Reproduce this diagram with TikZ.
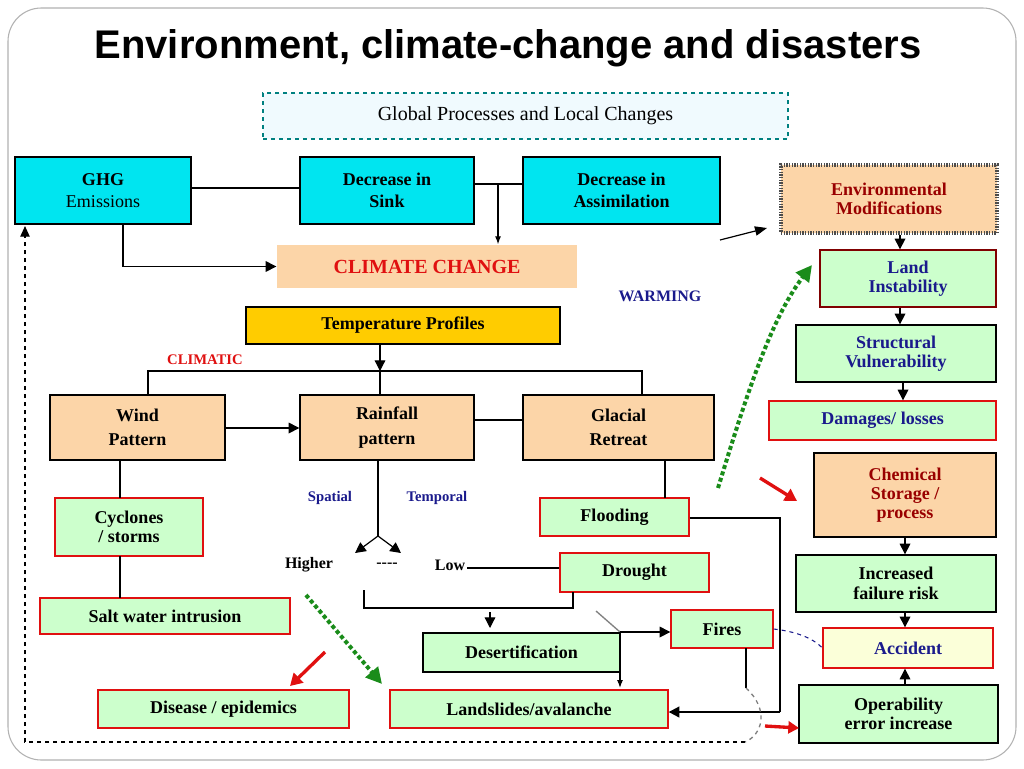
\documentclass[tikz,border=0pt]{standalone}
\usepackage{fontspec}
\setmainfont{Liberation Serif}
\newfontfamily\titlefont{Liberation Sans}
\usetikzlibrary{arrows.meta}
\definecolor{cyanb}{HTML}{00E5F0}
\definecolor{peach}{HTML}{FCD5A8}
\definecolor{lgreen}{HTML}{CCFFCC}
\definecolor{gold}{HTML}{FFCC00}
\definecolor{navyt}{HTML}{1A1A8C}
\definecolor{redt}{HTML}{E01010}
\definecolor{dgreen}{HTML}{1A8C1A}
\begin{document}
\begin{tikzpicture}[x=0.75pt,y=-0.75pt,
 bx/.style={draw=black,line width=1pt,inner sep=0pt,align=center,font=\bfseries\fontsize{13.5}{14.5}\selectfont},
 cy/.style={bx,fill=cyanb},
 pe/.style={bx,fill=peach},
 gr/.style={bx,fill=lgreen,draw=redt},
 gk/.style={bx,fill=lgreen},
 ln/.style={line width=0.9pt},
 ar/.style={ln,-{Triangle[length=8pt,width=8pt]}},
 lbl/.style={font=\bfseries\fontsize{12}{13}\selectfont}]
\useasboundingbox (0,0) rectangle (1024,768);
\fill[white] (0,0) rectangle (1024,768);
\draw[gray!60,line width=0.8pt,rounded corners=25pt] (8,8) -- (1016,8) -- (1016,760) -- (8,760) -- cycle;
\node[font=\titlefont\bfseries\fontsize{30}{32}\selectfont] (title) at (508,48) {Environment, climate-change and disasters};
\newcommand{\bxat}[6]{\node[#1,minimum width={(#4-#2)*0.75pt},minimum height={(#5-#3)*0.75pt}] (#6) at ({(#2+#4)/2},{(#3+#5)/2})}
\bxat{bx,draw=teal,dashed,fill=cyan!6,font=\fontsize{15}{16}\selectfont}{263}{93}{788}{139}{glob} {Global Processes and Local Changes};
\bxat{cy}{15}{157}{191}{224}{ghg} {GHG\\[2pt]\mdseries Emissions};
\bxat{cy}{300}{157}{474}{224}{sink} {Decrease in\\[2pt]Sink};
\bxat{cy}{523}{157}{720}{224}{assim} {Decrease in\\[2pt]Assimilation};
\bxat{pe,draw=none,text=redt,font=\bfseries\fontsize{15}{16}\selectfont}{277}{245}{577}{288}{cc} {CLIMATE CHANGE};
\node[lbl,text=navyt] (warm) at (660,296) {WARMING};
\bxat{bx,fill=gold}{246}{307}{560}{344}{temp} {Temperature Profiles};
\node[lbl,text=redt,font=\bfseries\fontsize{11}{12}\selectfont] (clim) at (205,360) {CLIMATIC};
\bxat{pe}{50}{395}{225}{460}{wind} {Wind\\[4pt]Pattern};
\bxat{pe}{300}{395}{474}{460}{rain} {Rainfall\\[4pt]pattern};
\bxat{pe}{523}{395}{714}{460}{glac} {Glacial\\[4pt]Retreat};
\bxat{gr}{55}{498}{203}{556}{cyc} {Cyclones\\/ storms};
\bxat{gr}{40}{598}{290}{634}{salt} {Salt water intrusion};
\node[lbl,text=navyt,font=\bfseries\fontsize{11}{12}\selectfont] (spat) at (330,498) {Spatial};
\node[lbl,text=navyt,font=\bfseries\fontsize{11}{12}\selectfont] (tempo) at (437,498) {Temporal};
\node[lbl] (high) at (309,565) {Higher};
\node[lbl] (dash) at (387,565) {-{}-{}-{}-};
\node[lbl] (low) at (450,565) {Low};
\bxat{gr}{540}{498}{689}{536}{flood} {Flooding};
\bxat{gr}{560}{553}{709}{592}{drought} {Drought};
\bxat{gr}{671}{610}{773}{648}{fires} {Fires};
\bxat{gk}{423}{633}{620}{672}{desert} {Desertification};
\bxat{gr}{98}{690}{349}{728}{disease} {Disease / epidemics};
\bxat{gr}{390}{690}{668}{728}{lands} {Landslides/avalanche};
\bxat{pe,draw=black!70,densely dotted,line width=2.5pt,text=red!60!black}{781}{165}{997}{233}{env} {Environmental\\Modifications};
\bxat{bx,fill=lgreen,draw=red!50!black,text=navyt}{820}{250}{996}{307}{land} {Land\\Instability};
\bxat{gk,text=navyt}{796}{325}{996}{382}{struct} {Structural\\Vulnerability};
\bxat{gr,text=navyt}{769}{401}{996}{440}{dam} {Damages/ losses};
\bxat{pe,text=red!60!black}{814}{453}{996}{537}{chem} {Chemical\\Storage /\\process};
\bxat{gk}{796}{555}{996}{612}{incr} {Increased\\failure risk};
\bxat{gr,fill=green!10!yellow!15,text=navyt}{823}{628}{993}{668}{acc} {Accident};
\bxat{gk}{799}{685}{998}{743}{oper} {Operability\\error increase};
% top connectors
\draw[ln] (ghg.east |- 0,188) -- (sink.west |- 0,188);
\draw[ln] (sink.east |- 0,184) -- (assim.west |- 0,184);
\draw[ln,-{Latex[length=6pt]}] (498,184) -- (cc.north -| 498,0);
\draw[ar] (123,224) |- (cc.west);
\draw[ar] (temp.south -| 380,0) -- (380,371);
\draw[ln] (148,395) |- (642,371) -- (642,395);
\draw[ln] (380,371) -- (380,395);
\draw[ar] (wind.east |- 0,428) -- (rain.west |- 0,428);
\draw[ln] (rain.east |- 0,420) -- (glac.west |- 0,420);
\draw[ln] (120,460) -- (120,498);
\draw[ln] (120,556) -- (120,598);
\draw[ln] (378,460) -- (378,536);
\draw[ar] (378,536) -- (355,553);
\draw[ar] (378,536) -- (401,553);
\draw[ln] (665,460) -- (665,498);
\draw[ln] (467,568) -- (drought.west |- 0,568);
\draw[ln] (364,590) -- (364,608) -- (573,608) -- (573,592);
\draw[ar] (490,612) -- (490,628);
\draw[gray,line width=1pt] (596,611) -- (620,632);
\draw[ar] (620,632) -- (fires.west |- 0,632);
\draw[ln,-{Latex[length=6pt]}] (620,632) -- (620,688);
\draw[ln] (flood.east |- 0,518) -- (780,518) -- (780,712);
\draw[ar,line width=1.5pt] (780,712) -- (lands.east |- 0,712);
\draw[ln] (746,648) -- (746,688);
\draw[gray,dashed,line width=1pt] (746,688) .. controls (770,710) and (762,735) .. (745,742);
\draw[dashed,line width=1pt,-{Triangle[length=8pt,width=7pt]}] (745,742) -- (25,742) -- (25,226);
\draw[navyt,dashed,line width=0.8pt] (fires.east) .. controls (800,632) and (815,640) .. (acc.west);
% coloured arrows
\draw[redt,line width=2.5pt,-{Triangle[length=8pt,width=9pt]}] (765,726) -- (799,728);
\draw[redt,line width=2.5pt,-{Triangle[length=9pt,width=10pt]}] (325,652) -- (290,686);
\draw[redt,line width=2.5pt,-{Triangle[length=9pt,width=10pt]}] (760,478) -- (797,501);
\draw[dgreen,line width=3pt,dotted,-{Triangle[length=12pt,width=12pt]}] (306,595) -- (382,684);
\draw[dgreen,line width=3pt,dotted,-{Triangle[length=12pt,width=12pt]}] (718,488) .. controls (745,400) and (770,320) .. (812,265);
\draw[ln,-{Triangle[length=9pt,width=7pt]}] (720,240) -- (767,228);
% right column
\draw[ar] (env.south -| 900,0) -- (land.north -| 900,0);
\draw[ar] (land.south -| 900,0) -- (struct.north -| 900,0);
\draw[ar] (struct.south -| 903,0) -- (dam.north -| 903,0);
\draw[ar] (chem.south -| 905,0) -- (incr.north -| 905,0);
\draw[ar] (incr.south -| 905,0) -- (acc.north -| 905,0);
\draw[ar] (oper.north -| 905,0) -- (acc.south -| 905,0);
\end{tikzpicture}
\end{document}
